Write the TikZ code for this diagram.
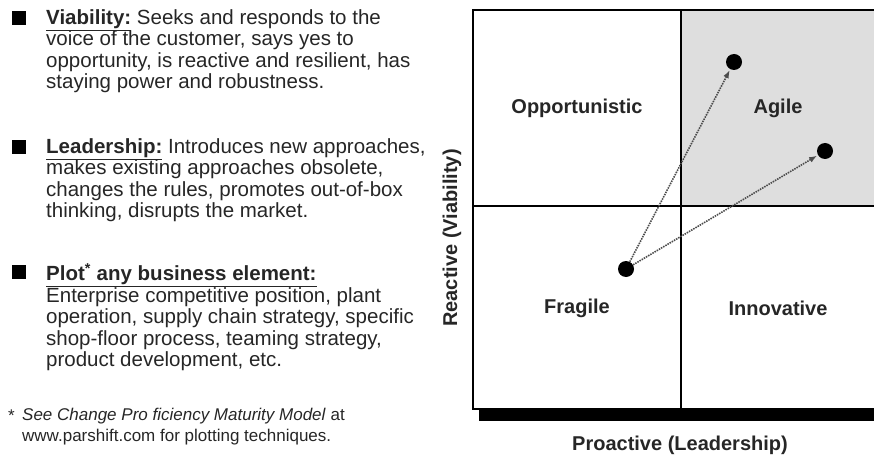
\documentclass[tikz,border=0pt]{standalone}
\usepackage{fontspec}
\setmainfont{Liberation Sans}
\usetikzlibrary{arrows.meta}
\definecolor{inkgray}{RGB}{38,38,38}
\definecolor{agilegray}{RGB}{222,222,222}
\tikzstyle{bulletsq}=[rectangle,fill=black,inner sep=0pt,minimum size=14pt]
\tikzstyle{bodytext}=[anchor=north west,inner sep=0pt,align=left,text=inkgray,
                      font=\fontsize{20.5}{21.5}\selectfont]
\tikzstyle{notetext}=[anchor=north west,inner sep=0pt,align=left,text=inkgray,
                      font=\fontsize{17}{21}\selectfont]
\tikzstyle{quadlabel}=[inner sep=0pt,text=inkgray,
                       font=\fontsize{20}{22}\selectfont\bfseries]
\tikzstyle{blackdot}=[circle,fill=black,inner sep=0pt,minimum size=16pt]
\tikzstyle{moveline}=[draw=black!70,line width=1.6pt,dash pattern=on 1.5pt off 1pt,
                      -{Latex[length=8pt,width=6pt]},shorten >=1pt]

\begin{document}
\begin{tikzpicture}[x=1pt,y=-1pt]
    \useasboundingbox (0,0) rectangle (874,457);
    \clip (0,0) rectangle (874,457);

    % bullet list on the left
    \node (b1) at (19,18) [bulletsq]{};
    \node (t1) at (46,9) [bodytext]{\underline{\textbf{Viability:}} Seeks and responds to the\\
      voice of the customer, says yes to\\
      opportunity, is reactive and resilient, has\\
      staying power and robustness.};
    \node (b2) at (19,147) [bulletsq]{};
    \node (t2) at (46,138) [bodytext]{\underline{\textbf{Leadership:}} Introduces new approaches,\\
      makes existing approaches obsolete,\\
      changes the rules, promotes out-of-box\\
      thinking, disrupts the market.};
    \node (b3) at (19,272) [bulletsq]{};
    \node (t3) at (46,263) [bodytext]{\underline{\textbf{Plot\textsuperscript{*} any business element:}}\\
      Enterprise competitive position, plant\\
      operation, supply chain strategy, specific\\
      shop-floor process, teaming strategy,\\
      product development, etc.};
    \node (star) at (8,410) [notetext]{*};
    \node (note) at (22,408) [notetext]{\textit{See Change Pro ficiency Maturity Model} at\\
      www.parshift.com for plotting techniques.};

    % quadrant chart, the right column runs past the edge
    \newcommand{\qx}{681}
    \newcommand{\qy}{206}
    \fill[agilegray] (\qx,10) rectangle (889,\qy);
    \draw[line width=2pt] (473,10) rectangle (889,409);
    \draw[line width=2pt] (\qx,10) -- (\qx,409) (473,\qy) -- (889,\qy);
    \fill[black] (479,409) rectangle (889,421);

    \node (opp)   at (577,108) [quadlabel]{Opportunistic};
    \node (agile) at (778,108) [quadlabel]{Agile};
    \node (frag)  at (577,308) [quadlabel]{Fragile};
    \node (innov) at (778,308) [quadlabel]{Innovative};
    \node (yaxis) at (452,238) [quadlabel,rotate=90]{Reactive (Viability)};
    \node (xaxis) at (680,445) [quadlabel]{Proactive (Leadership)};

    \node (start) at (626,269) [blackdot]{};
    \node (goal1) at (734,62)  [blackdot]{};
    \node (goal2) at (825,151) [blackdot]{};
    \draw[moveline] (start) -- (goal1);
    \draw[moveline] (start) -- (goal2);
\end{tikzpicture}
\end{document}
